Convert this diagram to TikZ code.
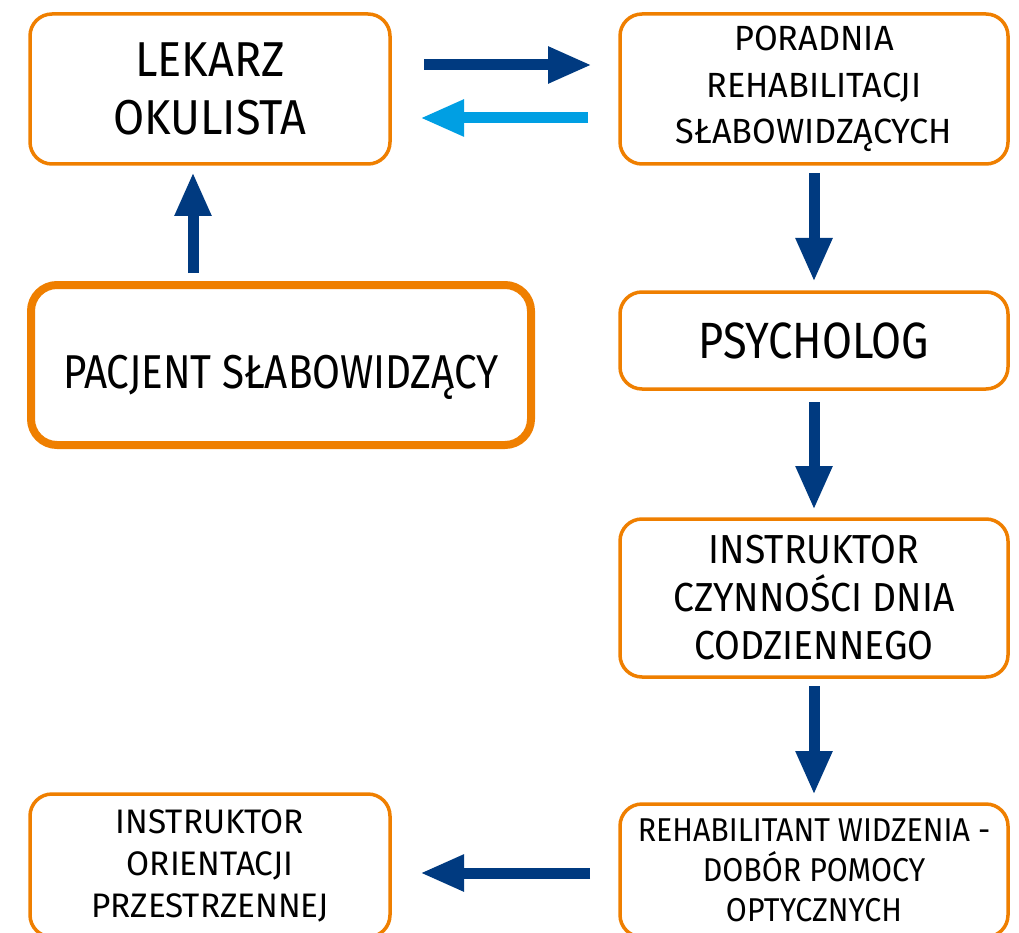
\documentclass[tikz,border=0pt]{standalone}
\usepackage{fontspec}
\setmainfont{Fira Sans}[FakeStretch=0.85]
\newfontfamily\midfont{Fira Sans}[FakeStretch=0.92]
\newfontfamily\widefont{Fira Sans}[FakeStretch=0.98]
\usetikzlibrary{arrows.meta,calc,positioning}

\definecolor{boxorange}{HTML}{EF7F00}
\definecolor{flowblue}{HTML}{003A80}
\definecolor{backblue}{HTML}{009FE3}

\begin{document}
\begin{tikzpicture}[
  x=1pt, y=-1pt,
  box/.style={draw=boxorange, line width=3.5pt, rounded corners=22pt, fill=white,
    align=center, inner sep=0pt, outer sep=0pt, minimum width=388pt},
  patientbox/.style={box, line width=8pt, rounded corners=26pt},
  flow/.style={-{Triangle[length=44pt,width=34pt]}, line width=11pt, draw=flowblue},
  backflow/.style={flow, draw=backblue}
]
  \clip (0,0) rectangle (1019,933);

  \node[box, minimum width=360pt, minimum height=150pt,
    font=\midfont\fontsize{49}{58}\selectfont] (lekarz) at (210,89) {LEKARZ\\OKULISTA};
  \node[box, minimum height=150pt, right=230pt of lekarz,
    font=\widefont\fontsize{35}{46.5}\selectfont] (poradnia) {PORADNIA\\REHABILITACJI\\SŁABOWIDZĄCYCH};
  \node[patientbox, minimum width=500pt, minimum height=160pt, text height=56pt, text depth=10pt,
    font=\fontsize{47.5}{56}\selectfont] (pacjent) at (281,365) {PACJENT SŁABOWIDZĄCY};

  \node[box, minimum height=97pt, below=128pt of poradnia,
    font=\fontsize{51}{60}\selectfont] (psycholog) {PSYCHOLOG};
  \node[box, minimum height=158pt, below=130pt of psycholog,
    font=\midfont\fontsize{40.5}{48}\selectfont] (czynnosci) {INSTRUKTOR\\CZYNNOŚCI DNIA\\CODZIENNEGO};
  \node[box, minimum height=133pt, below=127pt of czynnosci,
    font=\midfont\fontsize{33}{40}\selectfont] (rehab) {REHABILITANT WIDZENIA -\\DOBÓR POMOCY\\OPTYCZNYCH};
  \node[box, minimum width=360pt, minimum height=143pt, left=230pt of rehab, yshift=5pt,
    font=\widefont\fontsize{34}{42}\selectfont] (orientacja) {INSTRUKTOR\\ORIENTACJI\\PRZESTRZENNEJ};

  % top pair between doctor and clinic
  \draw[flow, shorten <=34pt, shorten >=28pt] ([yshift=24pt]lekarz.east) -- ([yshift=24pt]poradnia.west);
  \draw[backflow, shorten <=32pt, shorten >=30pt] ([yshift=-29pt]poradnia.west) -- ([yshift=-29pt]lekarz.east);

  \draw[flow, shorten <=12pt, shorten >=8pt] ($(lekarz.south |- pacjent.north)+(-17,0)$) -- ($(lekarz.south)+(-17,0)$);

  \draw[flow, shorten <=9pt, shorten >=10pt] (poradnia) -- (psycholog);
  \draw[flow, shorten <=13pt, shorten >=9pt] (psycholog) -- (czynnosci);
  \draw[flow, shorten <=9pt, shorten >=9pt] (czynnosci) -- (rehab);
  \draw[flow, shorten <=30pt, shorten >=30pt] ([yshift=-2.5pt]rehab.west) -- ([yshift=-7.5pt]orientacja.east);
\end{tikzpicture}
\end{document}
